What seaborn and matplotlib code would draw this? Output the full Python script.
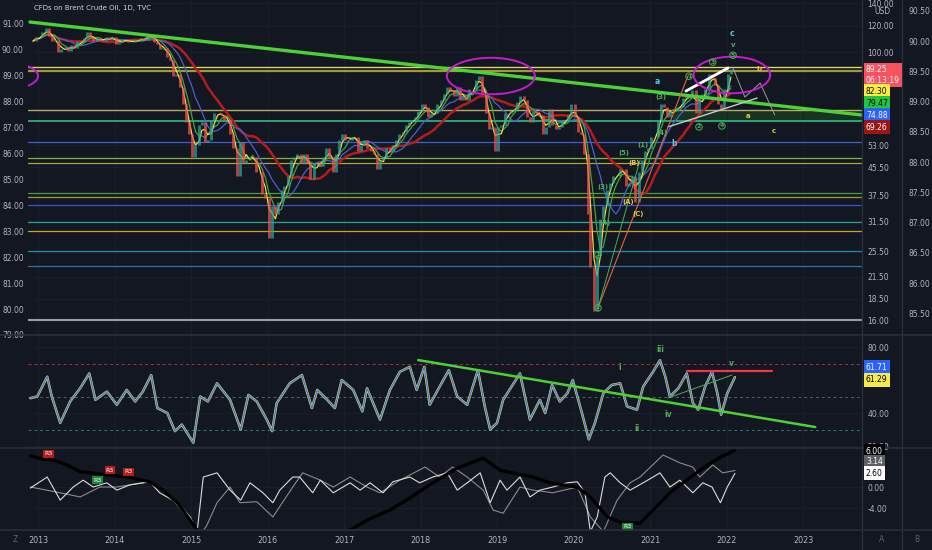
import numpy as np
import pandas as pd
import seaborn as sns
import matplotlib.pyplot as plt
from matplotlib.lines import Line2D
from matplotlib.ticker import FixedLocator, NullLocator, FormatStrFormatter

#%% data
# Brent CFD, semi-monthly closes, Dec 2012 -> Jan 2022
closes = [108, 111,
          111, 115, 118, 112, 108, 109, 100, 102, 104, 101, 105, 103,
          108, 107, 110, 115, 110, 108, 110, 109, 108, 111, 109, 111,
          106, 107, 109, 109, 107, 107, 109, 108, 110, 109, 113, 112,
          107, 106, 102, 103, 97, 95, 85, 86, 79, 70, 62, 57,
          49, 53, 61, 62, 54, 55, 63, 66, 66, 65, 63, 63,
          57, 52, 43, 54, 47, 48, 49, 49, 44, 44, 38, 37,
          28, 35, 33, 36, 39, 40, 43, 48, 49, 50, 47, 50,
          47, 42, 47, 47, 46, 49, 52, 49, 44, 50, 55, 57,
          55, 55, 56, 56, 51, 53, 55, 52, 51, 50, 45, 48,
          49, 52, 51, 53, 55, 57, 58, 61, 62, 63, 64, 67,
          70, 69, 64, 66, 66, 70, 72, 75, 79, 77, 74, 79,
          72, 74, 72, 78, 78, 83, 85, 75, 66, 59, 60, 51,
          60, 61, 66, 66, 67, 68, 71, 74, 72, 64, 62, 67,
          66, 65, 57, 60, 68, 61, 59, 60, 63, 63, 65, 70,
          64, 58, 57, 50, 33, 23, 17, 25, 32, 35, 39, 41,
          43, 43, 45, 45, 40, 41, 43, 36, 44, 48, 51, 52,
          56, 56, 63, 70, 69, 64, 67, 67, 69, 69, 73, 75,
          73, 77, 66, 73, 75, 78, 86, 84, 80, 70, 68, 78,
          86, 89.25]
start_date = '2012-12-01'

# horizontal levels drawn on the price pane
hline_levels = [90.4, 88.0, 67.4, 62.5, 54.1, 48.5, 46.9, 38.2, 37.2, 35.2, 31.3, 29.4, 25.7, 23.2, 16.0]

right_ticks = [16, 18.5, 21.5, 25.5, 31.5, 37.5, 45.5, 53, 100, 120, 140]
left_ticks = [79, 80, 81, 82, 83, 84, 85, 86, 87, 88, 89, 90, 91]
far_ticks = [85.5, 86.0, 86.5, 87.0, 87.5, 88.0, 88.5, 89.0, 89.5, 90.0, 90.5]
years = list(range(2013, 2024))

# RSI
rsi_t = [2012.90, 2012.99, 2013.12, 2013.18, 2013.29, 2013.42, 2013.55, 2013.67, 2013.75, 2013.90,
         2014.03, 2014.16, 2014.27, 2014.37, 2014.48, 2014.56, 2014.69, 2014.79, 2014.88, 2015.03,
         2015.12, 2015.22, 2015.34, 2015.51, 2015.65, 2015.75, 2015.86, 2015.99, 2016.06, 2016.12,
         2016.29, 2016.45, 2016.58, 2016.65, 2016.78, 2016.88, 2016.97, 2017.12, 2017.24, 2017.30,
         2017.47, 2017.60, 2017.73, 2017.86, 2017.95, 2018.05, 2018.12, 2018.25, 2018.37, 2018.48,
         2018.61, 2018.75, 2018.84, 2018.91, 2019.00, 2019.08, 2019.30, 2019.43, 2019.56, 2019.63,
         2019.72, 2019.82, 2019.92, 2019.99, 2020.11, 2020.20, 2020.28, 2020.39, 2020.50, 2020.61,
         2020.70, 2020.83, 2020.91, 2021.04, 2021.13, 2021.20, 2021.26, 2021.37, 2021.48, 2021.56,
         2021.63, 2021.72, 2021.81, 2021.88, 2021.93, 2022.01, 2022.11]
rsi_v = [49, 50, 62, 50, 34, 47, 55, 64, 48, 53,
         45, 54, 47, 53, 63, 43, 40, 29, 33, 22,
         50, 47, 58, 48, 30, 51, 47, 36, 29, 46,
         58, 63, 43, 54, 48, 43, 60, 54, 41, 55,
         36, 54, 65, 68, 54, 68, 45, 56, 66, 50,
         45, 66, 44, 30, 34, 48, 64, 36, 48, 40,
         57, 47, 52, 60, 40, 24, 34, 52, 57, 58,
         44, 42, 56, 65, 72, 62, 50, 55, 64, 46,
         42, 56, 65, 52, 39, 52, 61.71]

# bottom oscillator pane
black_t = [2012.90, 2013.07, 2013.20, 2013.38, 2013.55, 2013.81, 2014.16, 2014.46, 2014.63, 2014.82,
           2014.96, 2015.08, 2015.5, 2016.0, 2016.5, 2017.08, 2017.30, 2017.60, 2017.86, 2018.16,
           2018.48, 2018.69, 2018.82, 2019.04, 2019.26, 2019.47, 2019.69, 2020.05, 2020.22, 2020.44,
           2020.61, 2020.87, 2021.04, 2021.26, 2021.48, 2021.69, 2021.92, 2022.11]
black_v = [5.9, 5.3, 5.1, 4.2, 2.9, 2.5, 1.9, 1.0, -0.6, -3.0,
           -5.7, -8.2, -12, -14, -11, -8.2, -6.3, -4.4, -2.1, 0.8,
           3.6, 4.8, 5.5, 3.2, 2.5, 1.9, 0.8, 0.0, -1.9, -5.7,
           -6.7, -6.9, -4.4, -1.1, 1.3, 3.6, 5.7, 7.0]
white_t = [2012.90, 2013.12, 2013.29, 2013.46, 2013.59, 2013.72, 2013.90, 2014.03, 2014.20, 2014.46,
           2014.59, 2014.82, 2014.99, 2015.08, 2015.16, 2015.34, 2015.51, 2015.65, 2015.77, 2015.94,
           2016.07, 2016.16, 2016.33, 2016.42, 2016.59, 2016.69, 2016.86, 2017.08, 2017.21, 2017.34,
           2017.51, 2017.64, 2017.86, 2017.99, 2018.16, 2018.35, 2018.48, 2018.61, 2018.78, 2018.91,
           2019.04, 2019.13, 2019.30, 2019.43, 2019.56, 2019.73, 2019.92, 2020.05, 2020.15, 2020.22,
           2020.31, 2020.41, 2020.48, 2020.61, 2020.74, 2020.91, 2021.04, 2021.13, 2021.26, 2021.39,
           2021.56, 2021.69, 2021.81, 2021.92, 2022.01, 2022.11]
white_v = [-0.2, 1.9, -2.5, 0.0, 1.3, 0.0, 0.8, -0.6, 0.4, 1.0,
           -1.1, -3.0, -5.7, -8.5, 1.9, 2.7, -0.6, -2.5, 0.8, -1.1,
           -3.0, -0.6, 1.9, 1.9, -1.1, 1.3, -1.1, 0.8, -0.6, 0.8,
           -1.1, 1.0, 1.9, 0.8, 1.9, 2.7, -0.6, 0.8, 2.7, -3.0,
           1.3, -0.6, 1.9, -1.9, -0.6, 0.0, 0.8, 1.0, -1.1, -8.5,
           -5.7, 1.9, 2.7, 0.8, -0.6, 0.8, 1.9, 2.7, 0.0, 1.3,
           -1.1, 0.8, 0.0, -3.0, 0.0, 2.6]
gray_t = [2012.90, 2013.29, 2013.55, 2013.81, 2014.03, 2014.46, 2014.73, 2014.95, 2015.12, 2015.20,
          2015.34, 2015.51, 2015.64, 2015.86, 2016.07, 2016.33, 2016.46, 2016.69, 2016.86, 2017.08,
          2017.30, 2017.47, 2017.73, 2018.06, 2018.25, 2018.42, 2018.61, 2018.82, 2018.95, 2019.08,
          2019.30, 2019.47, 2019.73, 2020.05, 2020.22, 2020.39, 2020.57, 2020.74, 2020.87, 2021.17,
          2021.39, 2021.56, 2021.65, 2021.82, 2021.95, 2022.11]
gray_v = [0.0, -1.1, -1.9, 0.0, 0.0, 1.0, -1.9, -5.7, -9.0, -7.5,
          -3.0, 0.0, -3.0, -2.8, -5.7, 0.0, 2.7, 1.3, 0.0, 1.9,
          0.0, -1.1, 1.3, 3.8, 1.9, 3.8, 1.9, -0.6, -4.4, -5.0,
          0.0, -0.6, -1.1, 0.0, -5.7, -8.5, -2.5, 0.8, 1.9, 6.1,
          4.6, 3.8, 1.9, 4.2, 2.7, 3.14]

# wave counts on the price pane: (label, year, price)
wave_green = [('(3)', 2021.14, 73.6), ('(4)', 2021.16, 57.6), ('(1)', 2020.91, 53.0),
              ('(5)', 2020.66, 50.2), ('(3)', 2020.39, 39.8), ('(4)', 2020.41, 31.1),
              ('v', 2022.085, 105)]
wave_circled = [('5', 2022.085, 98), ('3', 2021.82, 93.5), ('1', 2021.51, 84.9),
                ('2', 2021.64, 60.0), ('4', 2021.94, 60.4), ('1', 2020.32, 25.0), ('2', 2020.32, 17.4)]
wave_yellow = [('b', 2022.42, 89.2), ('a', 2022.28, 64.7), ('c', 2022.62, 58.3),
               ('(B)', 2020.79, 46.9), ('(A)', 2020.71, 35.9), ('(C)', 2020.84, 33.1)]
wave_teal = [('c', 2022.07, 114), ('a', 2021.10, 81.6), ('b', 2021.31, 53.7)]

rsi_waves = [('i', 2020.61, 67.9), ('ii', 2020.83, 30.9), ('iii', 2021.13, 78.8),
             ('iv', 2021.24, 39.4), ('v', 2022.07, 70.3)]

#%% style
BG = '#131722'
TXT = '#b2b5be'
GRID = '#1c2029'
W, H = 932, 550

sns.set_theme(style='dark', rc={'axes.facecolor': BG, 'figure.facecolor': BG,
                                'axes.edgecolor': BG, 'grid.color': GRID})
plt.rcParams['font.family'] = ['DejaVu Sans']


def frame(l, t, r, b):
    return [l / W, 1 - b / H, (r - l) / W, (b - t) / H]


fig = plt.figure(figsize=(9.32, 5.5), dpi=100)
ax = fig.add_axes(frame(28, 0, 862, 335))
ax_rsi = fig.add_axes(frame(28, 335, 862, 448), sharex=ax)
ax_osc = fig.add_axes(frame(28, 448, 862, 530), sharex=ax)

#%% price pane
ax.set_yscale('log')
dates = pd.date_range(start_date, periods=len(closes), freq='SMS') + pd.Timedelta(days=7)
t = np.asarray(dates.year + (dates.dayofyear - 1) / 365.25)
c = np.asarray(closes, dtype=float)
o = np.r_[c[0], c[:-1]]
up = c >= o

hline_colors = ['#d8d27a', '#a39a35', '#b5ad5e', '#2fae78', '#3f63d0', '#7cb342', '#b3a43a',
                '#43a047', '#9e9a2a', '#3d55c8', '#26a69a', '#c9a227', '#1593a6', '#2f74a8', '#9a9ca3']
hline_widths = [1.0, 1.6, 1.0, 1.3, 0.9, 0.9, 0.9, 0.9, 0.9, 0.9, 0.9, 0.9, 0.9, 0.9, 1.5]
for lvl, col, lw in zip(hline_levels, hline_colors, hline_widths):
    ax.axhline(lvl, color=col, lw=lw, zorder=1)
ax.fill_between([2021.3, 2023.8], hline_levels[3], hline_levels[2], color='#1d4a26', alpha=0.55, zorder=0.5)

s = pd.Series(c)
for w, col, lw in [(19, '#b71c1c', 1.8), (10, '#4a5fd0', 0.9), (5, '#43a047', 0.9), (3, '#fdd835', 0.9)]:
    sns.lineplot(x=t, y=s.rolling(w, min_periods=1).mean().values, ax=ax, color=col, lw=lw, zorder=2)

ax.vlines(t[up], o[up], c[up], color='#26a69a', lw=2.0, alpha=0.75, zorder=3)
ax.vlines(t[~up], o[~up], c[~up], color='#ef5350', lw=2.0, alpha=0.75, zorder=3)

# trendline and drawings
ax.plot([2012.895, 2023.77], [123, 65.1], color='#4cd137', lw=2.4, zorder=4)
ax.plot([2021.47, 2022.02], [76.7, 89.8], color='white', lw=2.0, zorder=4)
ax.plot([2021.235, 2022.40], [60.0, 73.1], color='#c8c8d0', lw=1.0, zorder=4)
ax.plot([2020.32, 2021.50], [17.4, 85.6], color='#e0663a', lw=0.8, zorder=4)
ax.plot([2020.32, 2020.87], [17.4, 47.8], color='#4caf50', lw=0.7, zorder=4)
ax.plot([2022.085, 2022.24, 2022.44, 2022.63], [89.8, 73.6, 81.0, 65.1], color='#9a9a9a', lw=0.7, zorder=4)


def ellipse(cx, cp, a, b):
    th = np.linspace(0, 2 * np.pi, 200)
    ax.plot(cx + a * np.cos(th), cp * np.exp(b * np.sin(th)), color='#c21ecb', lw=1.4, zorder=5)


ellipse(2018.92, 85.0, 0.575, 0.125)
ellipse(2022.07, 85.6, 0.50, 0.125)
ellipse(2012.37, 85.0, 0.63, 0.11)


def wave(a, lab, x, y, col, circ=False, size=5):
    kw = dict(boxstyle='circle,pad=0.12', fc='none', ec=col, lw=0.7) if circ else None
    a.text(x, y, lab, color=col, fontsize=size, ha='center', va='center', bbox=kw,
           fontweight='bold', zorder=6)


for lab, x, y in wave_green:
    wave(ax, lab, x, y, '#4caf50')
for lab, x, y in wave_circled:
    wave(ax, lab, x, y, '#4caf50', circ=True, size=4.5)
for lab, x, y in wave_yellow:
    wave(ax, lab, x, y, '#e6c84a')
for lab, x, y in wave_teal:
    wave(ax, lab, x, y, '#4dd0e1', size=5.5)

ax.text(2012.95, 135, 'CFDs on Brent Crude Oil, 1D, TVC', color='#d1d4dc', fontsize=5.0, va='center')

# extra scales: left and far right
axl = ax.twinx()
axl.set_ylim(79.0, 91.885)
axl.yaxis.tick_left()
axl.set_yticks(left_ticks)
axl.yaxis.set_major_formatter(FormatStrFormatter('%.2f'))
axl.tick_params(axis='y', colors=TXT, labelsize=5.5, length=0, pad=3)
axl.grid(False)

axr = ax.twinx()
axr.spines['right'].set_position(('axes', 1 + 40 / 834))
axr.set_ylim(85.145, 90.68)
axr.set_yticks(far_ticks)
axr.yaxis.set_major_formatter(FormatStrFormatter('%.2f'))
axr.tick_params(axis='y', colors=TXT, labelsize=5.5, length=0, pad=5)
axr.grid(False)

ax.set_xlim(2012.869, 2023.771)
ax.set_ylim(14.45, 143)
ax.set_xticks(years)
ax.yaxis.tick_right()
ax.yaxis.set_major_locator(FixedLocator(right_ticks))
ax.yaxis.set_minor_locator(NullLocator())
ax.yaxis.set_major_formatter(FormatStrFormatter('%.2f'))
ax.tick_params(axis='y', colors=TXT, labelsize=5.5, length=0, pad=4, labelleft=False, labelright=True)
ax.tick_params(axis='x', labelbottom=False, length=0)
ax.grid(True, color=GRID, lw=0.6)
ax.set_xlabel('')
ax.set_ylabel('')

#%% RSI pane
ax_rsi.axhline(70, color='#f23645', lw=0.7, ls=(0, (3, 3)), alpha=0.7)
ax_rsi.axhline(50, color='#787b86', lw=0.7, ls=(0, (3, 3)), alpha=0.7)
ax_rsi.axhline(30, color='#22ab94', lw=0.7, ls=(0, (3, 3)), alpha=0.7)
sns.lineplot(x=rsi_t, y=rsi_v, ax=ax_rsi, color='#e8d44d', lw=1.8)
sns.lineplot(x=rsi_t, y=rsi_v, ax=ax_rsi, color='#3d7be0', lw=1.0)
ax_rsi.plot([2017.97, 2023.16], [72.1, 31.5], color='#4cd137', lw=1.8)
ax_rsi.plot([2021.48, 2022.59], [65.5, 65.5], color='#f23645', lw=1.6)
ax_rsi.plot([2021.235, 2022.07], [49.1, 63.0], color='#4caf50', lw=0.7)
for lab, x, y in rsi_waves:
    wave(ax_rsi, lab, x, y, '#4caf50', size=5.5)
ax_rsi.set_ylim(18.8, 87.3)
ax_rsi.yaxis.tick_right()
ax_rsi.set_yticks([20, 40, 80])
ax_rsi.yaxis.set_major_formatter(FormatStrFormatter('%.2f'))
ax_rsi.tick_params(axis='y', colors=TXT, labelsize=5.5, length=0, pad=4)
ax_rsi.tick_params(axis='x', labelbottom=False, length=0)
ax_rsi.grid(True, color=GRID, lw=0.6)
ax_rsi.set_xlabel('')
ax_rsi.set_ylabel('')

#%% oscillator pane
sns.lineplot(x=gray_t, y=gray_v, ax=ax_osc, color='#8c8c8c', lw=0.8)
sns.lineplot(x=white_t, y=white_v, ax=ax_osc, color='#dcdcdc', lw=0.8)
sns.lineplot(x=black_t, y=black_v, ax=ax_osc, color='black', lw=2.3)
for lab, x, y, col in [('R3', 2013.14, 6.3, '#b71c1c'), ('R3', 2013.94, 3.2, '#b71c1c'),
                       ('R3', 2014.18, 2.9, '#b71c1c'), ('R3', 2013.78, 1.3, '#1b8a3a'),
                       ('R3', 2020.71, -7.6, '#1b8a3a')]:
    ax_osc.text(x, y, lab, color='white', fontsize=4.5, ha='center', va='center',
                bbox=dict(boxstyle='square,pad=0.2', fc=col, ec='none'))
ax_osc.set_ylim(-8.19, 7.43)
ax_osc.yaxis.tick_right()
ax_osc.set_yticks([-4, 0])
ax_osc.yaxis.set_major_formatter(FormatStrFormatter('%.2f'))
ax_osc.tick_params(axis='y', colors=TXT, labelsize=5.5, length=0, pad=4)
ax_osc.set_xticks(years)
ax_osc.set_xticklabels([str(y) for y in years])
ax_osc.tick_params(axis='x', colors=TXT, labelsize=5.8, length=0, pad=4)
ax_osc.grid(True, color=GRID, lw=0.6)
ax_osc.set_xlabel('')
ax_osc.set_ylabel('')

for a in [ax, ax_rsi, ax_osc, axl, axr]:
    for sp in a.spines.values():
        sp.set_visible(False)

#%% right-hand value tags, separators
def tag(x, y, s, fc, tc, size=5.5):
    fig.text(x / W, 1 - y / H, s, color=tc, fontsize=size, va='center', ha='left', linespacing=1.3,
             bbox=dict(boxstyle='square,pad=0.28', fc=fc, ec='none'))


tag(866, 75, '89.25\n06:13:19', '#f7525f', 'white')
tag(866, 91, '82.30', '#ffeb3b', 'black')
tag(866, 103, '79.47', '#22c542', 'black')
tag(866, 115, '74.88', '#2962ff', 'white')
tag(866, 127, '69.26', '#9b1515', 'white')
tag(866, 367, '61.71', '#2962ff', 'white')
tag(866, 380, '61.29', '#f5e94b', 'black')
tag(866, 451, '6.00', 'black', 'white')
tag(866, 462, '3.14', '#5d606b', 'white')
tag(866, 473, '2.60', 'white', 'black')

fig.text(882 / W, 1 - 12 / H, 'USD', color=TXT, fontsize=5.5, ha='center', va='center')
fig.text(15 / W, 1 - 540 / H, 'Z', color='#5d606b', fontsize=5.5, ha='center', va='center')
fig.text(882 / W, 1 - 540 / H, 'A', color='#5d606b', fontsize=5.5, ha='center', va='center')
fig.text(917 / W, 1 - 540 / H, 'B', color='#5d606b', fontsize=5.5, ha='center', va='center')

SEP = '#2a2e39'
for yy in [335, 448, 530]:
    fig.add_artist(Line2D([0, 1], [1 - yy / H] * 2, color=SEP, lw=1.2))
for xx in [862, 902]:
    fig.add_artist(Line2D([xx / W] * 2, [0, 1], color=SEP, lw=1.0))

fig.savefig('out.png', dpi=100, facecolor=BG)
